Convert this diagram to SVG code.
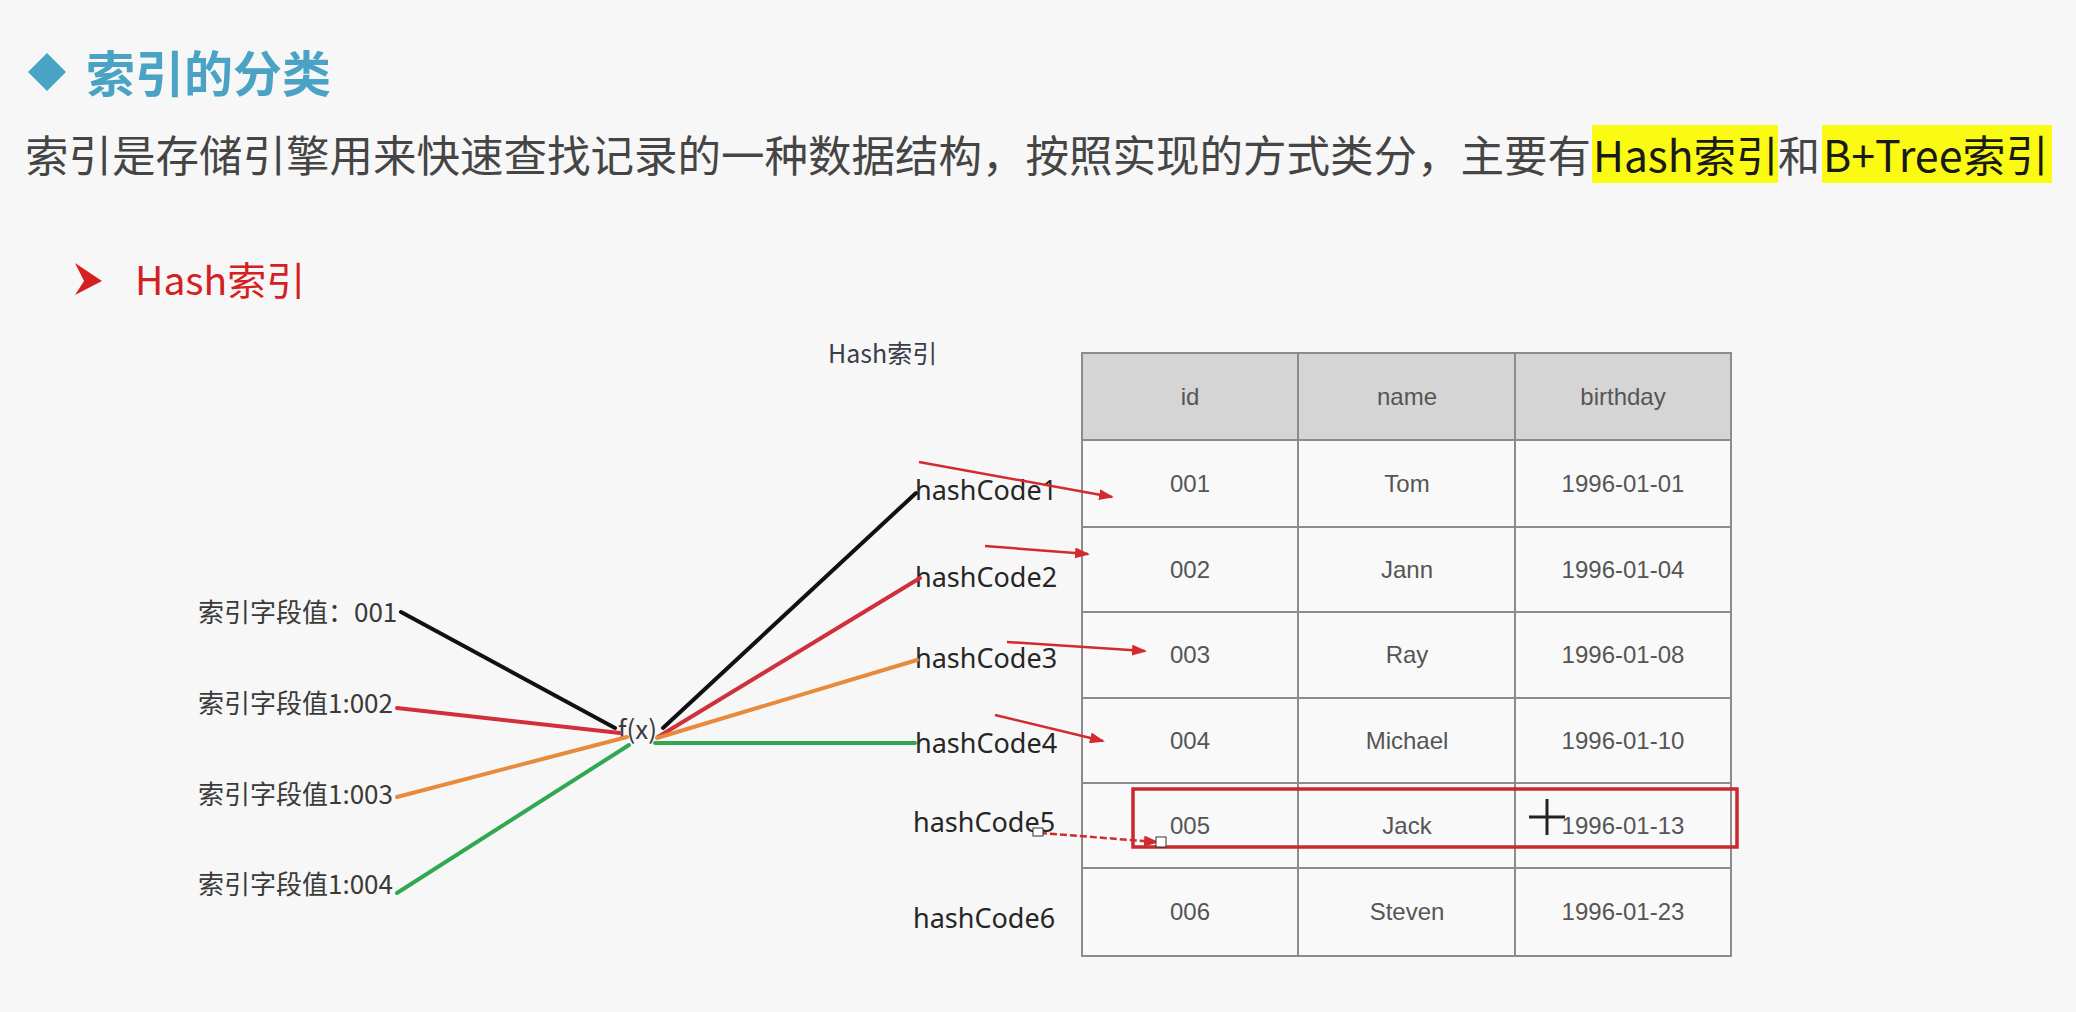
<svg xmlns="http://www.w3.org/2000/svg" width="2076" height="1012" viewBox="0 0 2076 1012">
<style>
.cjk{font-family:"Noto Sans CJK SC","Noto Sans",sans-serif}
.lbl{font-family:"Noto Sans CJK SC","Noto Sans",sans-serif;font-size:26px;fill:#3a3a3a}
.hc{font-family:"Noto Sans","Noto Sans CJK SC",sans-serif;font-size:27px;fill:#262626}
.cell{font-family:"Liberation Sans",Arial,sans-serif;font-size:24px;fill:#555;text-anchor:middle}
.grid{stroke:#8c8c8c;stroke-width:2;fill:none}
.ln{stroke-width:4;fill:none;stroke-linecap:round}
.ra{stroke:#d22a2f;stroke-width:2.5;fill:none;marker-end:url(#ah)}
</style>
<defs>
<marker id="ah" markerUnits="userSpaceOnUse" markerWidth="15" markerHeight="11" refX="13" refY="5.5" orient="auto">
<path d="M0,0 L15,5.5 L0,11 Z" fill="#d22a2f"/>
</marker>
</defs>
<rect x="0" y="0" width="2076" height="1012" fill="#f7f7f7"/>

<g id="title">
<path d="M47,53 L66,72 L47,91 L28,72 Z" fill="#4aa3c4"/>
<text x="86" y="92" class="cjk" font-size="49" font-weight="bold" fill="#4aa3c4">索引的分类</text>
</g>

<g id="subtitle">
<rect x="1592" y="125" width="186" height="58" fill="#fafa12"/>
<rect x="1822" y="125" width="230" height="58" fill="#fafa12"/>
<text x="25" y="172" class="cjk" font-size="43.5" fill="#454545">索引是存储引擎用来快速查找记录的一种数据结构，按照实现的方式类分，主要有</text>
<text x="1593" y="172" class="cjk" font-size="42.5" fill="#1a1a1a">Hash索引</text>
<text x="1778" y="172" class="cjk" font-size="42" fill="#454545">和</text>
<text x="1823" y="172" class="cjk" font-size="43" fill="#1a1a1a">B+Tree索引</text>
</g>

<g id="heading">
<path d="M75,263 L102,281 L75,295 L84,281 Z" fill="#d42020"/>
<text x="135" y="295" class="cjk" font-size="39" fill="#d42020">Hash索引</text>
</g>

<g id="diagram-title">
<text x="828" y="363" class="cjk" font-size="25" fill="#3d3d4a">Hash索引</text>
</g>

<g id="key-001"><text x="198" y="622" class="lbl">索引字段值：001</text></g>
<g id="key-002"><text x="198" y="713" class="lbl">索引字段值1:002</text></g>
<g id="key-003"><text x="198" y="804" class="lbl">索引字段值1:003</text></g>
<g id="key-004"><text x="198" y="894" class="lbl">索引字段值1:004</text></g>

<g id="fx"><text x="618" y="739" class="lbl">f(x)</text></g>

<g id="hashCode1"><text x="915" y="500" class="hc">hashCode1</text></g>
<g id="hashCode2"><text x="915" y="587" class="hc">hashCode2</text></g>
<g id="hashCode3"><text x="915" y="668" class="hc">hashCode3</text></g>
<g id="hashCode4"><text x="915" y="753" class="hc">hashCode4</text></g>
<g id="hashCode5"><text x="913" y="832" class="hc">hashCode5</text></g>
<g id="hashCode6"><text x="913" y="928" class="hc">hashCode6</text></g>

<g id="table">
<rect x="1082" y="353" width="649" height="603" fill="#f9f9f9"/>
<rect x="1082" y="353" width="649" height="87" fill="#d5d5d5"/>
<line class="grid" x1="1082" y1="440" x2="1731" y2="440" stroke-width="3"/>
<line class="grid" x1="1082" y1="527" x2="1731" y2="527"/>
<line class="grid" x1="1082" y1="612" x2="1731" y2="612"/>
<line class="grid" x1="1082" y1="698" x2="1731" y2="698"/>
<line class="grid" x1="1082" y1="783" x2="1731" y2="783" stroke-width="3"/>
<line class="grid" x1="1082" y1="868" x2="1731" y2="868" stroke-width="3"/>
<line class="grid" x1="1298" y1="353" x2="1298" y2="956"/>
<line class="grid" x1="1515" y1="353" x2="1515" y2="956"/>
<rect class="grid" x="1082" y="353" width="649" height="603" stroke-width="3" stroke="#999"/>
<text class="cell" x="1190" y="405">id</text>
<text class="cell" x="1407" y="405">name</text>
<text class="cell" x="1623" y="405">birthday</text>
<text class="cell" x="1190" y="492">001</text>
<text class="cell" x="1407" y="492">Tom</text>
<text class="cell" x="1623" y="492">1996-01-01</text>
<text class="cell" x="1190" y="578">002</text>
<text class="cell" x="1407" y="578">Jann</text>
<text class="cell" x="1623" y="578">1996-01-04</text>
<text class="cell" x="1190" y="663">003</text>
<text class="cell" x="1407" y="663">Ray</text>
<text class="cell" x="1623" y="663">1996-01-08</text>
<text class="cell" x="1190" y="749">004</text>
<text class="cell" x="1407" y="749">Michael</text>
<text class="cell" x="1623" y="749">1996-01-10</text>
<text class="cell" x="1190" y="834">005</text>
<text class="cell" x="1407" y="834">Jack</text>
<text class="cell" x="1623" y="834">1996-01-13</text>
<text class="cell" x="1190" y="920">006</text>
<text class="cell" x="1407" y="920">Steven</text>
<text class="cell" x="1623" y="920">1996-01-23</text>
</g>

<g id="highlight">
<rect x="1133" y="789" width="604" height="58" fill="none" stroke="#c9282f" stroke-width="3.5"/>
</g>

<g id="connectors">
<line class="ln" stroke="#111" x1="401" y1="612" x2="615" y2="728"/>
<line class="ln" stroke="#d0303a" x1="397" y1="708" x2="620" y2="733"/>
<line class="ln" stroke="#e88a3c" x1="397" y1="797" x2="627" y2="737"/>
<line class="ln" stroke="#2fa84f" x1="397" y1="893" x2="629" y2="745"/>
<line class="ln" stroke="#111" x1="663" y1="728" x2="916" y2="493"/>
<line class="ln" stroke="#d0303a" x1="658" y1="737" x2="920" y2="578"/>
<line class="ln" stroke="#e88a3c" x1="657" y1="738" x2="917" y2="660"/>
<line class="ln" stroke="#2fa84f" x1="655" y1="743" x2="915" y2="743"/>
<line class="ra" x1="919" y1="462" x2="1112" y2="497"/>
<line class="ra" x1="985" y1="546" x2="1088" y2="554"/>
<line class="ra" x1="1007" y1="642" x2="1145" y2="651"/>
<line class="ra" x1="995" y1="715" x2="1103" y2="741"/>
<line class="ra" x1="1040" y1="833" x2="1157" y2="842" stroke-dasharray="7 3"/>
<rect x="1033" y="828" width="10" height="8" fill="#fff" stroke="#333" stroke-width="1"/>
<rect x="1156" y="837" width="10" height="10" fill="#fff" stroke="#333" stroke-width="1"/>
</g>

<g id="cursor">
<line x1="1547" y1="799" x2="1547" y2="835" stroke="#222" stroke-width="3"/>
<line x1="1529" y1="817" x2="1565" y2="817" stroke="#222" stroke-width="3"/>
</g>
</svg>
